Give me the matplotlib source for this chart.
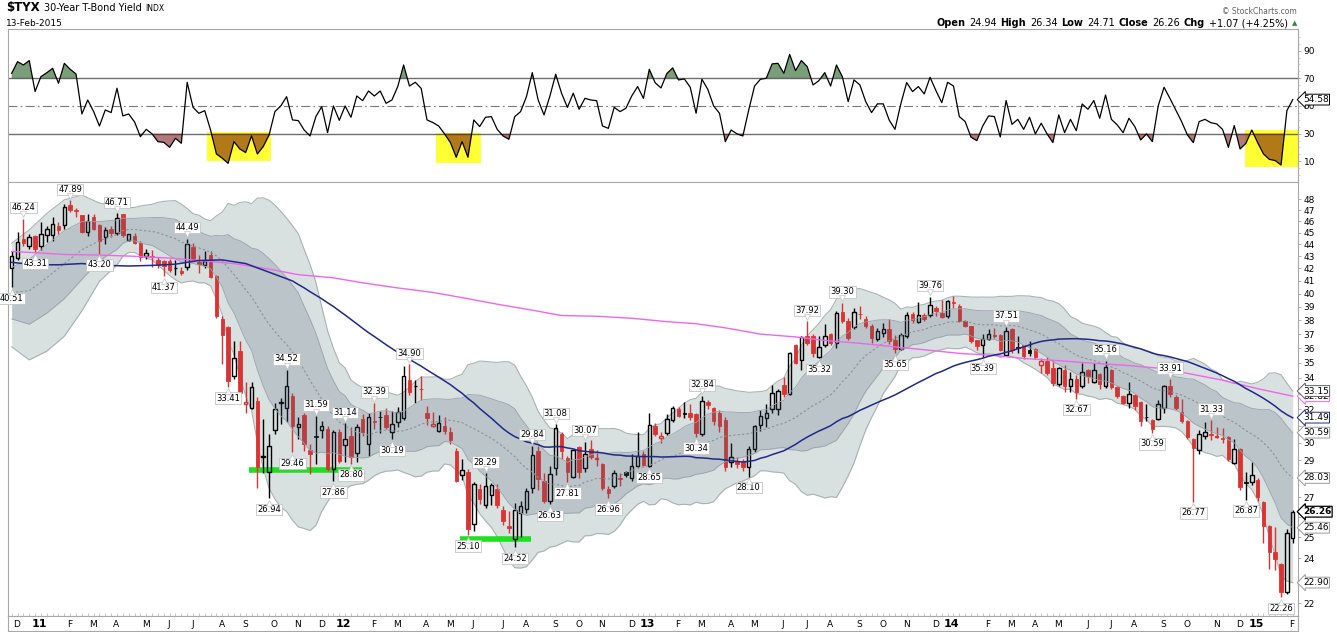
import numpy as np
import pandas as pd
import matplotlib
matplotlib.use("Agg")
import matplotlib.pyplot as plt
from matplotlib.patches import Rectangle
from matplotlib.transforms import offset_copy

#------------------------------------------------------------------
W, H = 1337, 632
RED = '#d93333'
FONT = 'DejaVu Sans'
#------------------------------------------------------------------

# weekly bars, week ending friday
dates = pd.date_range('2010-12-03', periods=220, freq='7D')

opens = [42.0, 42.84, 44.45, 43.9, 44.7, 43.9, 44.8, 44.8, 45.55, 45.7,
         47.5, 47.0, 46.55, 45.1, 46.35, 45.7, 44.6, 45.3, 45.0, 46.65,
         44.4, 44.7, 44.15, 43.05, 43.03, 42.7, 42.6, 42.6, 42.0, 41.8,
         42.15, 43.8, 42.5, 42.3, 43.1, 41.4, 38.1, 37.5, 34.1, 35.8,
         32.3, 32.1, 32.5, 29.2, 28.35, 30.75, 32.4, 32.1, 32.85, 30.9,
         31.65, 29.6, 30.4, 30.75, 30.8, 28.5, 30.65, 29.85, 30.4, 29.4,
         31.4, 29.9, 31.3, 31.55, 31.65, 30.65, 31.2, 31.45, 33.85, 33.45,
         33.3, 31.8, 31.0, 30.7, 31.0, 30.65, 29.5, 28.2, 28.35, 25.65,
         27.45, 26.6, 27.1, 27.45, 26.35, 25.55, 24.9, 26.2, 26.4, 27.5,
         29.5, 27.85, 26.8, 28.55, 30.5, 29.15, 28.1, 29.75, 28.55, 29.65,
         29.05, 28.8, 27.45, 27.6, 28.0, 28.35, 28.0, 28.7, 29.35, 28.7,
         31.0, 30.3, 30.55, 31.35, 32.0, 31.75, 31.75, 31.7, 30.5, 32.45,
         32.1, 31.8, 31.35, 28.9, 28.95, 28.9, 28.6, 29.65, 31.05, 31.45,
         32.0, 32.0, 33.55, 32.95, 36.25, 35.2, 36.85, 36.85, 35.4, 36.25,
         37.0, 36.35, 38.6, 37.95, 37.5, 38.5, 38.1, 37.6, 36.65, 37.05,
         37.4, 36.6, 35.95, 36.85, 38.45, 37.85, 38.4, 38.4, 38.9, 38.55,
         38.3, 39.35, 39.1, 37.95, 37.55, 36.55, 36.2, 36.65, 36.95, 36.95,
         35.55, 37.35, 36.1, 36.2, 35.85, 35.95, 34.85, 35.15, 34.65, 33.6,
         34.5, 33.45, 33.95, 33.45, 34.5, 33.75, 34.25, 33.45, 34.55, 33.4,
         32.85, 32.4, 32.9, 32.45, 31.55, 31.35, 31.4, 32.05, 33.45, 32.8,
         31.85, 31.3, 30.2, 29.6, 30.4, 30.5, 30.35, 30.3, 30.35, 28.85,
         29.65, 27.8, 27.8, 27.9, 26.75, 25.55, 24.3, 23.75, 22.5, 24.94]

highs = [43.4, 45.1, 46.24, 44.9, 44.8, 45.9, 45.6, 46.4, 45.9, 47.6,
         47.89, 47.2, 46.6, 46.7, 46.7, 45.8, 45.5, 45.6, 46.71, 46.7,
         44.9, 45.0, 44.3, 43.6, 43.5, 42.9, 42.7, 42.8, 42.7, 42.1,
         44.49, 44.15, 43.1, 43.4, 43.45, 41.5, 38.3, 37.6, 36.5, 36.5,
         33.76, 33.76, 32.8, 31.4, 30.5, 32.4, 32.7, 34.52, 33.0, 31.5,
         31.8, 29.9, 31.59, 31.3, 31.0, 30.77, 30.8, 31.14, 30.9, 31.1,
         31.7, 31.75, 32.39, 31.9, 32.1, 31.9, 32.15, 34.8, 34.90, 33.85,
         34.15, 32.2, 31.85, 31.65, 31.55, 30.95, 29.7, 29.05, 28.5, 27.8,
         27.7, 28.29, 27.75, 27.7, 26.55, 26.3, 26.7, 26.8, 27.5, 29.84,
         29.8, 28.3, 28.7, 31.08, 30.65, 29.25, 29.65, 29.8, 30.07, 30.15,
         29.6, 28.85, 27.6, 28.45, 28.3, 28.4, 29.35, 30.6, 29.55, 31.75,
         31.15, 30.6, 31.7, 32.2, 32.15, 32.45, 32.3, 31.8, 32.84, 32.55,
         32.15, 31.95, 31.5, 30.0, 29.2, 29.05, 29.8, 31.05, 31.95, 32.3,
         33.55, 33.25, 34.05, 35.75, 36.3, 36.9, 37.92, 37.0, 36.85, 37.75,
         37.1, 38.7, 39.30, 38.2, 38.95, 39.05, 38.3, 37.7, 37.45, 37.8,
         38.1, 36.95, 37.05, 38.6, 38.65, 39.35, 38.55, 39.76, 39.05, 39.5,
         39.55, 39.8, 39.25, 38.0, 37.6, 36.6, 37.0, 37.4, 37.45, 37.0,
         37.51, 37.45, 36.85, 36.25, 36.5, 36.0, 35.3, 35.4, 35.1, 34.75,
         34.85, 34.4, 34.2, 35.0, 34.6, 35.0, 34.35, 35.16, 34.6, 33.45,
         32.9, 33.75, 32.95, 32.5, 32.35, 31.4, 32.6, 33.55, 33.91, 32.9,
         32.65, 31.35, 30.25, 30.75, 31.2, 31.33, 30.95, 30.85, 30.4, 30.2,
         29.7, 28.35, 28.9, 28.0, 26.8, 25.6, 25.5, 23.8, 25.4, 26.34]

lows = [40.51, 42.7, 43.9, 43.6, 43.31, 43.5, 44.2, 44.3, 44.9, 45.3,
        46.8, 46.4, 45.0, 44.75, 45.2, 43.20, 44.0, 44.6, 44.8, 44.6,
        44.3, 44.0, 42.6, 42.8, 42.1, 42.0, 41.37, 41.7, 41.5, 41.45,
        41.9, 42.6, 41.6, 42.0, 41.2, 38.2, 34.9, 33.41, 33.9, 33.0,
        31.8, 32.0, 27.5, 28.3, 26.94, 30.5, 31.1, 31.2, 29.46, 30.2,
        29.55, 28.25, 28.8, 30.3, 28.4, 27.86, 28.85, 28.9, 28.80, 28.9,
        30.4, 29.25, 30.8, 30.55, 30.8, 30.19, 30.95, 31.35, 32.9, 32.4,
        32.6, 31.05, 30.9, 30.6, 30.5, 29.9, 27.8, 27.9, 25.10, 25.3,
        26.65, 26.45, 26.6, 26.45, 25.6, 25.2, 24.52, 25.0, 26.2, 27.2,
        27.4, 26.7, 26.63, 28.2, 29.1, 27.81, 28.05, 28.0, 28.35, 29.05,
        28.7, 27.4, 26.96, 27.5, 27.6, 28.1, 27.85, 28.6, 28.7, 28.65,
        30.4, 30.0, 30.45, 31.25, 31.5, 31.45, 31.35, 30.34, 30.4, 32.0,
        31.05, 30.65, 28.4, 28.65, 28.55, 28.4, 28.10, 29.45, 30.7, 30.95,
        31.75, 31.65, 32.8, 32.9, 34.95, 34.55, 36.2, 35.4, 35.32, 36.1,
        36.2, 36.0, 37.8, 36.6, 37.4, 38.1, 37.45, 36.35, 36.5, 36.8,
        36.3, 35.65, 35.9, 36.75, 37.8, 37.8, 37.95, 38.25, 38.35, 38.2,
        38.15, 38.95, 37.85, 37.5, 36.4, 35.9, 35.39, 36.6, 36.7, 35.8,
        35.5, 35.7, 35.65, 35.25, 35.45, 35.25, 34.3, 34.2, 33.45, 33.45,
        33.1, 33.1, 32.67, 33.35, 33.65, 33.65, 33.3, 33.35, 33.3, 32.7,
        32.3, 32.1, 31.95, 31.0, 31.3, 30.59, 31.35, 31.75, 32.8, 31.95,
        31.15, 30.2, 26.77, 29.35, 30.2, 30.15, 30.3, 30.0, 28.95, 28.8,
        27.4, 26.87, 27.65, 26.8, 24.7, 23.5, 23.45, 22.26, 22.4, 24.71]

closes = [43.0, 44.17, 44.09, 44.6, 43.6, 44.85, 45.3, 45.75, 45.2, 47.3,
          47.0, 46.95, 45.1, 46.0, 45.3, 44.3, 45.2, 45.0, 46.3, 44.8,
          44.85, 44.1, 42.95, 43.25, 42.95, 42.25, 42.2, 41.85, 42.05, 41.6,
          44.0, 42.7, 42.4, 42.65, 41.3, 38.3, 36.95, 33.8, 35.3, 33.05,
          32.45, 33.4, 28.65, 29.25, 29.8, 32.0, 32.45, 33.5, 31.0, 31.1,
          29.9, 29.35, 30.35, 31.0, 28.5, 30.65, 28.95, 30.2, 29.2, 30.95,
          30.65, 31.55, 31.2, 31.5, 30.95, 31.1, 31.85, 34.1, 33.1, 33.45,
          33.25, 31.45, 31.1, 31.15, 30.7, 30.15, 27.85, 28.45, 25.4, 27.7,
          26.9, 27.6, 27.65, 26.6, 25.8, 25.45, 26.35, 26.55, 27.35, 29.3,
          27.95, 26.8, 28.25, 30.85, 29.55, 28.35, 29.6, 28.35, 29.35, 29.2,
          29.15, 27.5, 27.2, 28.3, 27.95, 28.2, 28.7, 29.25, 28.75, 31.05,
          30.5, 30.4, 31.4, 32.05, 31.6, 31.7, 31.5, 30.55, 32.5, 32.25,
          31.3, 31.0, 28.65, 29.2, 28.8, 28.6, 29.65, 31.0, 31.6, 31.75,
          33.05, 33.15, 32.95, 35.65, 35.0, 36.8, 36.35, 35.65, 36.1, 36.9,
          36.35, 38.55, 37.95, 36.7, 38.65, 38.45, 37.55, 36.75, 37.25, 37.35,
          36.5, 35.95, 36.95, 38.4, 38.05, 38.4, 38.1, 39.15, 38.7, 38.25,
          39.45, 39.3, 37.95, 37.55, 36.5, 36.15, 36.65, 37.0, 36.9, 35.9,
          37.2, 35.85, 36.05, 35.45, 35.7, 35.4, 35.1, 34.35, 33.65, 34.65,
          33.45, 33.95, 33.1, 34.4, 34.1, 34.5, 33.6, 34.75, 33.4, 32.85,
          32.4, 32.95, 32.2, 31.3, 31.5, 30.8, 32.35, 33.45, 32.95, 32.05,
          31.3, 30.35, 29.7, 30.5, 30.6, 30.45, 30.4, 30.2, 29.05, 29.65,
          27.55, 27.75, 28.2, 27.0, 25.55, 24.3, 23.95, 22.5, 25.19, 26.26]

# RSI(14)
rsi = [73.6, 82.0, 79.6, 82.8, 60.4, 71.2, 74.0, 77.2, 66.4, 80.8,
       76.5, 73.1, 44.2, 54.3, 46.0, 35.5, 47.1, 45.2, 62.8, 42.8,
       44.2, 38.5, 27.8, 33.1, 29.8, 24.2, 23.7, 20.1, 26.6, 23.0,
       67.1, 49.0, 44.7, 46.6, 32.6, 15.3, 12.2, 8.5, 24.2, 18.9,
       16.3, 28.3, 15.3, 20.6, 29.0, 45.9, 50.0, 56.7, 39.9, 39.4,
       32.6, 28.3, 42.3, 49.5, 30.7, 50.0, 39.6, 50.0, 41.8, 57.2,
       53.8, 60.8, 57.2, 60.8, 51.9, 54.3, 64.0, 79.6, 64.4, 67.1,
       62.7, 39.9, 38.0, 35.5, 29.8, 23.5, 12.9, 24.2, 12.9, 39.9,
       35.1, 41.8, 42.3, 33.1, 28.3, 25.9, 42.3, 45.9, 56.7, 74.1,
       54.3, 43.5, 57.0, 72.9, 59.2, 49.0, 59.2, 47.6, 55.5, 54.3,
       53.8, 35.5, 33.8, 49.0, 45.9, 48.3, 57.2, 64.0, 55.5, 76.5,
       66.8, 63.0, 73.4, 77.5, 68.8, 69.5, 63.5, 44.7, 69.3, 62.0,
       50.0, 44.7, 24.2, 32.6, 29.8, 28.3, 47.1, 64.4, 69.3, 70.0,
       80.4, 80.8, 73.6, 87.3, 75.5, 82.8, 78.4, 65.2, 68.3, 74.1,
       64.4, 79.6, 71.2, 53.1, 68.8, 65.2, 53.1, 45.2, 51.5, 51.5,
       39.9, 33.1, 51.5, 66.9, 60.4, 64.0, 58.7, 70.7, 61.1, 52.4,
       67.1, 64.4, 42.3, 38.7, 27.4, 24.9, 35.5, 42.8, 42.3, 27.6,
       53.9, 36.7, 40.3, 33.1, 41.8, 29.8, 37.5, 29.8, 23.5, 43.5,
       30.7, 40.3, 32.1, 51.4, 47.6, 53.9, 41.1, 57.9, 40.3, 36.3,
       30.7, 41.1, 35.1, 25.4, 29.8, 24.2, 50.0, 63.5, 55.5, 47.1,
       38.7, 29.0, 23.5, 38.7, 40.3, 37.9, 37.0, 33.1, 20.1, 35.8,
       18.9, 23.0, 32.6, 23.5, 15.3, 11.4, 10.5, 7.3, 46.6, 54.58]

# bollinger band edges before the 20 week window is full
bb_early_idx = [0, 3, 6, 9, 12, 15, 18]
bb_early_up = [44.1, 45.25, 46.7, 47.95, 48.4, 47.65, 47.4]
bb_early_lo = [36.1, 35.2, 35.8, 36.85, 38.7, 40.97, 42.3]

# 50 week average before the window is full
ma50_early_idx = [0, 4, 8, 12, 16, 20, 24, 28, 32, 36, 40, 44, 48]
ma50_early = [42.5, 42.3, 42.3, 42.4, 42.25, 42.2, 42.25, 42.35, 42.65, 42.7, 42.4, 41.7, 41.0]

# 200 week average
ma200_idx = [0, 4, 9, 15, 21, 27, 32, 38, 44, 49, 55, 60, 66, 72, 77, 83, 89, 94, 100, 106,
             112, 117, 122, 128, 134, 139, 145, 151, 156, 162, 168, 173, 179, 184, 190, 196,
             201, 207, 213, 219]
ma200 = [43.4, 43.3, 43.15, 43.1, 43.0, 42.85, 42.65, 42.4, 41.95, 41.5, 41.25, 40.85, 40.45,
         40.1, 39.7, 39.2, 38.75, 38.35, 38.3, 38.15, 37.9, 37.75, 37.45, 37.0, 36.8, 36.55,
         36.35, 36.1, 35.9, 35.65, 35.5, 35.3, 35.15, 35.0, 34.85, 34.65, 34.3, 33.85, 33.3, 32.82]

# swing labels
high_label_idx = [2, 10, 18, 30, 47, 52, 57, 62, 68, 81, 89, 93, 98, 118, 136, 142, 157, 170, 187, 198, 205]
low_label_idx = [0, 4, 15, 26, 37, 44, 48, 55, 58, 65, 78, 86, 92, 95, 102, 109, 117, 126, 138, 151,
                 166, 182, 195, 202, 211, 217]

# annotations drawn on the chart
support_lines = [(40.6, 59.9, 28.47), (76.6, 88.8, 24.9)]
rsi_boxes = [(33.4, 44.4, 10.4, 31.4), (72.6, 80.2, 9.0, 30.2), (210.8, 219.9, 6.1, 32.6)]

# value tags on the right edge: value, edge colour, bold
tag_values = [22.90, 25.46, 26.26, 28.03, 30.59, 31.49, 32.82, 33.15]
tag_colors = ['#9a9a9a', '#9a9a9a', 'black', '#9a9a9a', '#9a9a9a', '#1f2a8a', '#ee66ee', '#606060']
tag_bold = [False, False, True, False, False, False, False, False]
# axis numbers that sit under a tag
hidden_ticks = [23, 26, 28, 31, 33]

#------------------------------------------------------------------

o, h, l, c = (np.array(v, dtype=float) for v in (opens, highs, lows, closes))
x = np.arange(len(c))
cl = pd.Series(c)
sma20 = cl.rolling(20).mean().values
sd20 = cl.rolling(20).std(ddof=0).values

xb = np.r_[bb_early_idx, x[19:]]
up2 = np.r_[bb_early_up, (sma20 + 2 * sd20)[19:]]
lo2 = np.r_[bb_early_lo, (sma20 - 2 * sd20)[19:]]
mid = (up2 + lo2) / 2
up1 = mid + (up2 - lo2) / 4
lo1 = mid - (up2 - lo2) / 4

x50 = np.r_[ma50_early_idx, x[49:]]
ma50 = np.r_[ma50_early, cl.rolling(50).mean().values[49:]]

fig = plt.figure(figsize=(W / 100, H / 100), dpi=100)
plt.rcParams['font.family'] = FONT

def px_axes(x0, y0, x1, y1):
    return fig.add_axes([x0 / W, 1 - y1 / H, (x1 - x0) / W, (y1 - y0) / H])

XL = (-0.58, 219.9)
ax_r = px_axes(8.3, 29.3, 1298, 181.7)
ax = px_axes(8.3, 181.7, 1298, 616)
ax_d = px_axes(8.3, 616, 1298, 631)

for a in (ax_r, ax, ax_d):
    a.set_xlim(*XL)
    for s in a.spines.values():
        s.set_color('#a8a8a8')
        s.set_linewidth(0.8)

#---------------- RSI panel
r = np.array(rsi)
ax_r.set_ylim(-4.76, 105.4)
for (x0, x1, y0, y1) in rsi_boxes:
    ax_r.add_patch(Rectangle((x0, y0), x1 - x0, y1 - y0, facecolor='#ffff33', edgecolor='none', zorder=1))
ax_r.fill_between(x, r, 70, where=r > 70, interpolate=True, color=(0.0, 0.27, 0.0, 0.52), lw=0, zorder=2)
ax_r.fill_between(x, r, 30, where=r < 30, interpolate=True, color=(0.42, 0.0, 0.0, 0.52), lw=0, zorder=2)
ax_r.axhline(70, color='#6e6e6e', lw=1, zorder=1.5)
ax_r.axhline(30, color='#6e6e6e', lw=1, zorder=1.5)
ax_r.axhline(50, color='#7a7a7a', lw=0.8, ls=(0, (8, 3, 1.5, 3)), zorder=1.5)
ax_r.plot(x, r, color='black', lw=0.9, zorder=3)
ax_r.yaxis.tick_right()
ax_r.set_yticks([10, 30, 50, 70, 90])
ax_r.set_yticks(np.arange(0, 101, 5), minor=True)
ax_r.tick_params(axis='y', labelsize=6.5, length=2, width=0.6, color='#a8a8a8', pad=2)
ax_r.tick_params(axis='y', which='minor', length=1.5, width=0.5, color='#c0c0c0')
ax_r.set_xticks([])

#---------------- price panel
ax.set_yscale('log')
ax.set_ylim(21.47, 49.66)

ax.fill_between(xb, lo2, up2, color='#d9e0e0', lw=0, zorder=1)
ax.plot(xb, up2, color='#a9b2b2', lw=0.8, zorder=1.1)
ax.plot(xb, lo2, color='#a9b2b2', lw=0.8, zorder=1.1)

for (x0, x1, lev) in support_lines:
    ax.hlines(lev, x0, x1, color='#1fe01f', lw=4, zorder=1.5)

prev = np.r_[c[0], c[:-1]]
col = np.where(c >= prev, 'black', RED)
top = np.maximum(o, c)
bot = np.minimum(o, c)
ax.vlines(x, top, h, colors=col, lw=1, zorder=2)
ax.vlines(x, l, bot, colors=col, lw=1, zorder=2)
hol = c >= o
ax.bar(x[hol], (top - bot)[hol], bottom=bot[hol], width=0.6, facecolor='none',
       edgecolor=col[hol], lw=1, zorder=2.1)
ax.bar(x[~hol], (top - bot)[~hol], bottom=bot[~hol], width=0.6, facecolor=col[~hol],
       edgecolor=col[~hol], lw=0.6, zorder=2.1)

ax.fill_between(xb, lo1, up1, color='#506478', alpha=0.22, lw=0, zorder=3)
ax.plot(xb, up1, color='#98a2aa', lw=0.6, zorder=3.1)
ax.plot(xb, lo1, color='#98a2aa', lw=0.6, zorder=3.1)
ax.plot(xb, mid, color='#8a9296', lw=0.8, ls=(0, (2, 2)), zorder=3.2)
ax.plot(ma200_idx, ma200, color='#ee66ee', lw=1, zorder=4)
ax.plot(x50, ma50, color='#1f2a8a', lw=1.1, zorder=4)

ax.yaxis.tick_right()
ax.yaxis.set_minor_locator(matplotlib.ticker.NullLocator())
ax.set_yticks(np.arange(22, 49))
ax.set_yticklabels(['' if v in hidden_ticks else str(v) for v in range(22, 49)])
ax.tick_params(axis='y', labelsize=6.5, length=2, width=0.6, color='#a8a8a8', pad=2)
ax.set_xticks([])

# swing high / low labels
box = dict(boxstyle='square,pad=0.15', fc='white', ec='#c4c4c4', lw=0.6)
for i in high_label_idx:
    ax.annotate('%.2f' % h[i], (i, h[i]), xytext=(0, 8), textcoords='offset points',
                ha='center', va='center', fontsize=6, bbox=box, zorder=6)
    ax.plot(i, h[i], marker='v', ms=4, mfc='white', mec='#c4c4c4', mew=0.5, zorder=6.1,
            transform=offset_copy(ax.transData, fig, 0, 3.2, units='points'))
for i in low_label_idx:
    ax.annotate('%.2f' % l[i], (i, l[i]), xytext=(0, -8), textcoords='offset points',
                ha='center', va='center', fontsize=6, bbox=box, zorder=6, annotation_clip=False)
    ax.plot(i, l[i], marker='^', ms=4, mfc='white', mec='#c4c4c4', mew=0.5, zorder=6.1,
            transform=offset_copy(ax.transData, fig, 0, -3.2, units='points'), clip_on=False)

# right edge value tags
def tag(a, val, ec, bold=False):
    a.annotate('%.2f' % val, (1, val), xycoords=('axes fraction', 'data'), xytext=(3.5, 0),
               textcoords='offset points', ha='left', va='center', fontsize=6.5,
               fontweight='bold' if bold else 'normal', annotation_clip=False, zorder=10,
               bbox=dict(boxstyle='larrow,pad=0.1', fc='white', ec=ec, lw=0.9 if bold else 0.7))

for val, ec, b in zip(tag_values, tag_colors, tag_bold):
    tag(ax, val, ec, b)
tag(ax_r, r[-1], 'black')

#---------------- date strip
ax_d.set_ylim(0, 1)
ax_d.set_yticks([])
ax_d.set_xticks([])
ax.set_xticks(x, minor=True)
ax.tick_params(axis='x', which='minor', length=2, width=0.5, color='#b0b0b0', direction='in')
for i in x:
    if i == 0 or dates[i].month != dates[i - 1].month:
        if dates[i].month == 1:
            ax_d.text(i - 0.3, 0.45, dates[i].strftime('%y'), ha='center', va='center',
                      fontsize=8, fontweight='bold')
        else:
            ax_d.text(i + 0.9, 0.45, dates[i].strftime('%b')[0], ha='center', va='center',
                      fontsize=6.5)

#---------------- header
def ftext(xp, yp, s, **kw):
    return fig.text(xp / W, 1 - yp / H, s, va='center', **kw)

t1 = ftext(6, 8, '$TYX', fontsize=8.5, fontweight='bold')
rend = fig.canvas.get_renderer()
xp = 6 + t1.get_window_extent(rend).width + 4
t2 = ftext(xp, 8, '30-Year T-Bond Yield', fontsize=7)
xp += t2.get_window_extent(rend).width + 4
ftext(xp, 8.5, 'INDX', fontsize=5.5)
ftext(6, 23.5, '13-Feb-2015', fontsize=6.5)
ftext(1297, 12, '\u00a9 StockCharts.com', fontsize=5.5, color='#606060', ha='right')

parts = [('Open', 'bold'), ('%.2f' % o[-1], 'normal'), ('High', 'bold'), ('%.2f' % h[-1], 'normal'),
         ('Low', 'bold'), ('%.2f' % l[-1], 'normal'), ('Close', 'bold'), ('%.2f' % c[-1], 'normal'),
         ('Chg', 'bold'), ('%+.2f (%+.2f%%)' % (c[-1] - c[-2], 100 * (c[-1] - c[-2]) / c[-2]), 'normal')]
xr = 1288
tri = ftext(1297, 23.5, '\u25b2', fontsize=5, color='#2e8b2e', ha='right')
for s, wgt in reversed(parts):
    t = ftext(xr, 23.5, s, fontsize=7, fontweight=wgt, ha='right')
    xr -= t.get_window_extent(rend).width + (3 if wgt == 'bold' else 4.5)

fig.savefig('out.png', dpi=100)
